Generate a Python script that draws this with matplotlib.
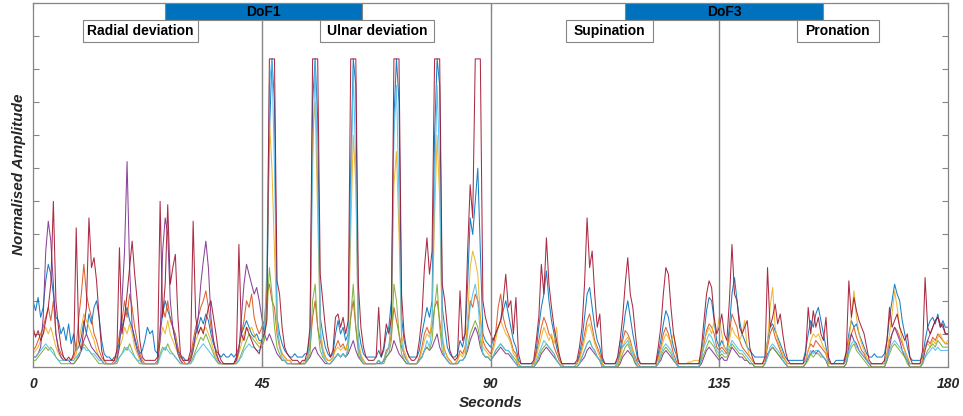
import numpy as np
import matplotlib
matplotlib.use('Agg')
import matplotlib.pyplot as plt
from matplotlib.patches import Rectangle

plt.rcParams['font.family'] = ['Liberation Sans', 'DejaVu Sans']

# sample spacing of the traces (seconds)
STEP = 0.5

# each row = 5 s of samples; last row is t = 180 s
blue_rows = [
    [0.20, 0.17, 0.21, 0.15, 0.18, 0.26, 0.31, 0.28, 0.22, 0.15],
    [0.14, 0.10, 0.12, 0.08, 0.13, 0.07, 0.10, 0.05, 0.06, 0.09],
    [0.14, 0.10, 0.16, 0.13, 0.18, 0.20, 0.15, 0.08, 0.04, 0.03],
    [0.03, 0.02, 0.03, 0.03, 0.08, 0.12, 0.15, 0.18, 0.14, 0.12],
    [0.09, 0.06, 0.04, 0.05, 0.08, 0.12, 0.10, 0.11, 0.05, 0.04],
    [0.10, 0.16, 0.20, 0.17, 0.15, 0.12, 0.08, 0.05, 0.03, 0.03],
    [0.02, 0.02, 0.03, 0.06, 0.10, 0.12, 0.15, 0.13, 0.16, 0.14],
    [0.10, 0.07, 0.05, 0.04, 0.03, 0.04, 0.03, 0.03, 0.04, 0.03],
    [0.04, 0.06, 0.10, 0.12, 0.14, 0.12, 0.10, 0.09, 0.10, 0.08],
    [0.08, 0.10, 0.20, 0.70, 0.93, 0.80, 0.15, 0.10, 0.07, 0.05],
    [0.04, 0.03, 0.03, 0.04, 0.03, 0.03, 0.03, 0.04, 0.04, 0.10],
    [0.80, 0.93, 0.75, 0.15, 0.10, 0.06, 0.04, 0.03, 0.04, 0.10],
    [0.14, 0.10, 0.12, 0.08, 0.10, 0.60, 0.93, 0.85, 0.12, 0.07],
    [0.04, 0.03, 0.03, 0.03, 0.03, 0.03, 0.05, 0.03, 0.05, 0.10],
    [0.12, 0.20, 0.75, 0.93, 0.80, 0.15, 0.08, 0.05, 0.03, 0.03],
    [0.03, 0.03, 0.05, 0.10, 0.14, 0.18, 0.15, 0.20, 0.70, 0.93],
    [0.85, 0.18, 0.12, 0.06, 0.04, 0.03, 0.03, 0.04, 0.08, 0.06],
    [0.10, 0.25, 0.45, 0.40, 0.50, 0.60, 0.35, 0.10, 0.08, 0.07],
    [0.06, 0.08, 0.10, 0.12, 0.14, 0.17, 0.20, 0.16, 0.12, 0.08],
    [0.06, 0.02, 0.01, 0.01, 0.01, 0.01, 0.01, 0.01, 0.05, 0.12],
    [0.18, 0.22, 0.29, 0.20, 0.14, 0.10, 0.06, 0.03, 0.01, 0.01],
    [0.01, 0.01, 0.01, 0.01, 0.01, 0.04, 0.08, 0.15, 0.22, 0.24],
    [0.18, 0.12, 0.08, 0.06, 0.02, 0.01, 0.01, 0.01, 0.01, 0.01],
    [0.02, 0.05, 0.10, 0.16, 0.20, 0.15, 0.10, 0.06, 0.02, 0.01],
    [0.01, 0.01, 0.01, 0.01, 0.01, 0.01, 0.04, 0.08, 0.13, 0.17],
    [0.15, 0.10, 0.06, 0.04, 0.01, 0.01, 0.01, 0.01, 0.01, 0.01],
    [0.01, 0.01, 0.01, 0.04, 0.10, 0.17, 0.21, 0.20, 0.14, 0.08],
    [0.06, 0.08, 0.06, 0.05, 0.12, 0.22, 0.27, 0.20, 0.14, 0.10],
    [0.08, 0.06, 0.05, 0.04, 0.03, 0.03, 0.03, 0.03, 0.03, 0.08],
    [0.12, 0.13, 0.11, 0.09, 0.07, 0.05, 0.03, 0.02, 0.02, 0.02],
    [0.02, 0.02, 0.02, 0.02, 0.05, 0.10, 0.14, 0.12, 0.16, 0.18],
    [0.14, 0.10, 0.06, 0.02, 0.01, 0.01, 0.02, 0.02, 0.02, 0.02],
    [0.04, 0.10, 0.14, 0.12, 0.13, 0.10, 0.08, 0.06, 0.04, 0.03],
    [0.03, 0.04, 0.03, 0.03, 0.03, 0.04, 0.08, 0.15, 0.20, 0.25],
    [0.22, 0.20, 0.14, 0.10, 0.06, 0.03, 0.02, 0.02, 0.02, 0.02],
    [0.03, 0.08, 0.12, 0.14, 0.15, 0.13, 0.16, 0.12, 0.14, 0.12],
    [0.12],
]

orange_rows = [
    [0.05, 0.06, 0.08, 0.10, 0.12, 0.15, 0.18, 0.14, 0.20, 0.10],
    [0.06, 0.04, 0.03, 0.02, 0.02, 0.02, 0.03, 0.06, 0.15, 0.22],
    [0.31, 0.22, 0.18, 0.15, 0.10, 0.08, 0.05, 0.03, 0.02, 0.01],
    [0.01, 0.01, 0.02, 0.05, 0.10, 0.14, 0.20, 0.15, 0.22, 0.18],
    [0.12, 0.08, 0.04, 0.02, 0.01, 0.01, 0.01, 0.01, 0.01, 0.02],
    [0.12, 0.18, 0.15, 0.20, 0.14, 0.12, 0.10, 0.06, 0.03, 0.02],
    [0.01, 0.01, 0.03, 0.08, 0.12, 0.15, 0.18, 0.20, 0.23, 0.18],
    [0.12, 0.08, 0.05, 0.02, 0.01, 0.01, 0.01, 0.01, 0.01, 0.01],
    [0.02, 0.06, 0.10, 0.14, 0.20, 0.18, 0.22, 0.15, 0.12, 0.10],
    [0.12, 0.14, 0.22, 0.25, 0.20, 0.18, 0.10, 0.06, 0.04, 0.03],
    [0.02, 0.02, 0.01, 0.01, 0.01, 0.01, 0.01, 0.01, 0.03, 0.06],
    [0.15, 0.20, 0.12, 0.08, 0.05, 0.03, 0.02, 0.02, 0.03, 0.06],
    [0.08, 0.06, 0.07, 0.05, 0.08, 0.15, 0.20, 0.12, 0.06, 0.03],
    [0.02, 0.01, 0.01, 0.01, 0.01, 0.01, 0.02, 0.01, 0.02, 0.05],
    [0.06, 0.10, 0.18, 0.14, 0.10, 0.06, 0.04, 0.02, 0.01, 0.01],
    [0.01, 0.01, 0.03, 0.06, 0.10, 0.12, 0.10, 0.12, 0.18, 0.20],
    [0.14, 0.08, 0.05, 0.03, 0.02, 0.01, 0.01, 0.02, 0.05, 0.04],
    [0.06, 0.12, 0.20, 0.18, 0.22, 0.20, 0.15, 0.08, 0.06, 0.05],
    [0.04, 0.06, 0.10, 0.18, 0.22, 0.15, 0.12, 0.10, 0.08, 0.05],
    [0.04, 0.01, 0.00, 0.00, 0.00, 0.00, 0.00, 0.01, 0.04, 0.08],
    [0.12, 0.15, 0.13, 0.10, 0.09, 0.06, 0.04, 0.02, 0.01, 0.00],
    [0.00, 0.00, 0.00, 0.00, 0.01, 0.03, 0.06, 0.10, 0.14, 0.16],
    [0.12, 0.08, 0.06, 0.04, 0.01, 0.00, 0.00, 0.00, 0.00, 0.00],
    [0.01, 0.04, 0.08, 0.11, 0.10, 0.08, 0.05, 0.03, 0.01, 0.00],
    [0.00, 0.00, 0.00, 0.00, 0.00, 0.00, 0.03, 0.06, 0.10, 0.12],
    [0.10, 0.07, 0.04, 0.02, 0.00, 0.00, 0.00, 0.00, 0.00, 0.00],
    [0.00, 0.00, 0.00, 0.03, 0.07, 0.11, 0.13, 0.12, 0.10, 0.06],
    [0.05, 0.06, 0.05, 0.04, 0.10, 0.16, 0.14, 0.12, 0.08, 0.06],
    [0.05, 0.04, 0.03, 0.02, 0.01, 0.01, 0.01, 0.01, 0.02, 0.06],
    [0.10, 0.12, 0.09, 0.07, 0.05, 0.03, 0.02, 0.01, 0.01, 0.01],
    [0.01, 0.01, 0.01, 0.01, 0.02, 0.05, 0.07, 0.06, 0.08, 0.07],
    [0.06, 0.05, 0.04, 0.01, 0.01, 0.01, 0.01, 0.01, 0.01, 0.01],
    [0.03, 0.08, 0.10, 0.12, 0.09, 0.07, 0.05, 0.04, 0.02, 0.01],
    [0.01, 0.01, 0.01, 0.01, 0.01, 0.01, 0.04, 0.08, 0.10, 0.12],
    [0.11, 0.09, 0.07, 0.05, 0.03, 0.01, 0.01, 0.01, 0.01, 0.01],
    [0.02, 0.06, 0.08, 0.07, 0.09, 0.08, 0.10, 0.09, 0.08, 0.07],
    [0.07],
]

yellow_rows = [
    [0.04, 0.05, 0.06, 0.08, 0.10, 0.12, 0.10, 0.12, 0.09, 0.06],
    [0.04, 0.03, 0.02, 0.02, 0.02, 0.02, 0.02, 0.04, 0.08, 0.12],
    [0.16, 0.14, 0.12, 0.10, 0.08, 0.05, 0.03, 0.02, 0.01, 0.01],
    [0.01, 0.01, 0.01, 0.03, 0.06, 0.08, 0.12, 0.10, 0.13, 0.10],
    [0.06, 0.04, 0.02, 0.01, 0.01, 0.01, 0.01, 0.01, 0.01, 0.01],
    [0.08, 0.12, 0.10, 0.14, 0.10, 0.08, 0.06, 0.04, 0.02, 0.01],
    [0.01, 0.01, 0.02, 0.05, 0.08, 0.10, 0.12, 0.11, 0.12, 0.10],
    [0.08, 0.05, 0.03, 0.01, 0.01, 0.01, 0.01, 0.01, 0.01, 0.01],
    [0.01, 0.04, 0.07, 0.10, 0.12, 0.11, 0.12, 0.10, 0.08, 0.07],
    [0.08, 0.10, 0.25, 0.75, 0.60, 0.35, 0.12, 0.07, 0.04, 0.03],
    [0.02, 0.02, 0.01, 0.01, 0.01, 0.01, 0.01, 0.02, 0.03, 0.08],
    [0.70, 0.80, 0.45, 0.12, 0.06, 0.03, 0.02, 0.02, 0.03, 0.05],
    [0.06, 0.05, 0.06, 0.05, 0.08, 0.40, 0.70, 0.55, 0.08, 0.04],
    [0.02, 0.01, 0.01, 0.01, 0.01, 0.01, 0.02, 0.01, 0.02, 0.04],
    [0.06, 0.12, 0.55, 0.65, 0.40, 0.10, 0.05, 0.03, 0.01, 0.01],
    [0.01, 0.01, 0.02, 0.05, 0.08, 0.10, 0.09, 0.15, 0.45, 0.70],
    [0.50, 0.10, 0.05, 0.03, 0.02, 0.01, 0.01, 0.02, 0.04, 0.03],
    [0.05, 0.15, 0.30, 0.35, 0.32, 0.28, 0.15, 0.06, 0.05, 0.04],
    [0.03, 0.05, 0.08, 0.12, 0.14, 0.12, 0.10, 0.09, 0.07, 0.04],
    [0.03, 0.01, 0.00, 0.00, 0.00, 0.00, 0.00, 0.01, 0.03, 0.06],
    [0.09, 0.12, 0.10, 0.08, 0.10, 0.07, 0.12, 0.03, 0.01, 0.00],
    [0.00, 0.00, 0.00, 0.00, 0.01, 0.02, 0.05, 0.08, 0.12, 0.13],
    [0.10, 0.07, 0.05, 0.03, 0.01, 0.00, 0.00, 0.00, 0.00, 0.00],
    [0.01, 0.03, 0.06, 0.08, 0.09, 0.07, 0.05, 0.02, 0.01, 0.01],
    [0.01, 0.01, 0.01, 0.01, 0.01, 0.01, 0.02, 0.05, 0.08, 0.10],
    [0.09, 0.07, 0.10, 0.05, 0.01, 0.01, 0.01, 0.01, 0.015, 0.015],
    [0.02, 0.02, 0.02, 0.04, 0.08, 0.10, 0.12, 0.10, 0.14, 0.10],
    [0.15, 0.10, 0.06, 0.05, 0.08, 0.12, 0.10, 0.09, 0.08, 0.10],
    [0.14, 0.06, 0.03, 0.02, 0.01, 0.01, 0.01, 0.01, 0.02, 0.08],
    [0.18, 0.24, 0.12, 0.08, 0.06, 0.04, 0.02, 0.01, 0.01, 0.01],
    [0.01, 0.01, 0.01, 0.01, 0.02, 0.05, 0.08, 0.10, 0.09, 0.10],
    [0.08, 0.06, 0.05, 0.01, 0.01, 0.01, 0.01, 0.01, 0.01, 0.01],
    [0.02, 0.08, 0.15, 0.23, 0.15, 0.10, 0.07, 0.05, 0.03, 0.01],
    [0.01, 0.01, 0.01, 0.01, 0.01, 0.01, 0.04, 0.10, 0.16, 0.23],
    [0.18, 0.12, 0.08, 0.05, 0.03, 0.01, 0.01, 0.01, 0.01, 0.01],
    [0.02, 0.06, 0.07, 0.06, 0.08, 0.07, 0.09, 0.10, 0.08, 0.07],
    [0.08],
]

purple_rows = [
    [0.03, 0.03, 0.04, 0.06, 0.15, 0.35, 0.44, 0.38, 0.25, 0.10],
    [0.05, 0.03, 0.02, 0.02, 0.02, 0.01, 0.01, 0.02, 0.03, 0.05],
    [0.08, 0.10, 0.08, 0.06, 0.05, 0.04, 0.03, 0.02, 0.01, 0.01],
    [0.01, 0.01, 0.01, 0.02, 0.06, 0.20, 0.35, 0.62, 0.30, 0.12],
    [0.08, 0.05, 0.03, 0.01, 0.01, 0.01, 0.01, 0.01, 0.01, 0.01],
    [0.08, 0.35, 0.45, 0.40, 0.20, 0.12, 0.08, 0.04, 0.02, 0.01],
    [0.01, 0.01, 0.02, 0.05, 0.10, 0.15, 0.25, 0.32, 0.38, 0.30],
    [0.15, 0.08, 0.04, 0.02, 0.01, 0.01, 0.01, 0.01, 0.01, 0.01],
    [0.02, 0.05, 0.15, 0.25, 0.31, 0.28, 0.25, 0.22, 0.24, 0.20],
    [0.15, 0.10, 0.08, 0.10, 0.08, 0.06, 0.04, 0.03, 0.02, 0.02],
    [0.01, 0.01, 0.01, 0.01, 0.01, 0.01, 0.01, 0.01, 0.02, 0.03],
    [0.05, 0.06, 0.04, 0.03, 0.02, 0.01, 0.01, 0.01, 0.02, 0.03],
    [0.04, 0.03, 0.04, 0.03, 0.04, 0.06, 0.08, 0.05, 0.03, 0.02],
    [0.01, 0.01, 0.01, 0.01, 0.01, 0.01, 0.01, 0.01, 0.02, 0.03],
    [0.04, 0.05, 0.08, 0.06, 0.04, 0.03, 0.02, 0.01, 0.01, 0.01],
    [0.01, 0.01, 0.02, 0.03, 0.05, 0.06, 0.05, 0.06, 0.08, 0.10],
    [0.06, 0.04, 0.03, 0.02, 0.01, 0.01, 0.01, 0.01, 0.02, 0.02],
    [0.03, 0.05, 0.08, 0.10, 0.12, 0.10, 0.06, 0.04, 0.03, 0.03],
    [0.02, 0.03, 0.04, 0.05, 0.06, 0.05, 0.04, 0.04, 0.03, 0.02],
    [0.01, 0.00, 0.00, 0.00, 0.00, 0.00, 0.00, 0.00, 0.01, 0.02],
    [0.04, 0.05, 0.06, 0.05, 0.04, 0.03, 0.02, 0.01, 0.00, 0.00],
    [0.00, 0.00, 0.00, 0.00, 0.00, 0.01, 0.02, 0.03, 0.05, 0.06],
    [0.05, 0.04, 0.03, 0.02, 0.00, 0.00, 0.00, 0.00, 0.00, 0.00],
    [0.00, 0.01, 0.03, 0.04, 0.05, 0.04, 0.03, 0.01, 0.00, 0.00],
    [0.00, 0.00, 0.00, 0.00, 0.00, 0.00, 0.01, 0.02, 0.04, 0.05],
    [0.04, 0.03, 0.02, 0.01, 0.00, 0.00, 0.00, 0.00, 0.00, 0.00],
    [0.00, 0.00, 0.00, 0.01, 0.03, 0.05, 0.06, 0.05, 0.04, 0.03],
    [0.02, 0.03, 0.02, 0.02, 0.04, 0.06, 0.05, 0.04, 0.03, 0.03],
    [0.02, 0.02, 0.01, 0.01, 0.00, 0.00, 0.00, 0.00, 0.01, 0.04],
    [0.05, 0.06, 0.05, 0.04, 0.03, 0.02, 0.01, 0.00, 0.00, 0.00],
    [0.00, 0.00, 0.00, 0.00, 0.01, 0.03, 0.04, 0.05, 0.04, 0.05],
    [0.04, 0.03, 0.02, 0.00, 0.00, 0.00, 0.00, 0.00, 0.00, 0.00],
    [0.01, 0.06, 0.10, 0.08, 0.07, 0.05, 0.04, 0.03, 0.02, 0.01],
    [0.00, 0.00, 0.00, 0.00, 0.00, 0.00, 0.02, 0.06, 0.10, 0.12],
    [0.10, 0.08, 0.05, 0.03, 0.02, 0.00, 0.00, 0.00, 0.00, 0.00],
    [0.01, 0.05, 0.08, 0.10, 0.12, 0.14, 0.15, 0.13, 0.12, 0.10],
    [0.10],
]

green_rows = [
    [0.02, 0.02, 0.03, 0.04, 0.05, 0.06, 0.05, 0.06, 0.05, 0.03],
    [0.02, 0.01, 0.01, 0.01, 0.01, 0.01, 0.01, 0.02, 0.04, 0.05],
    [0.07, 0.06, 0.05, 0.04, 0.03, 0.02, 0.01, 0.01, 0.01, 0.01],
    [0.01, 0.01, 0.01, 0.01, 0.03, 0.04, 0.06, 0.05, 0.07, 0.05],
    [0.03, 0.02, 0.01, 0.01, 0.01, 0.01, 0.01, 0.01, 0.01, 0.01],
    [0.04, 0.06, 0.05, 0.07, 0.05, 0.04, 0.03, 0.02, 0.01, 0.01],
    [0.01, 0.01, 0.01, 0.03, 0.05, 0.07, 0.09, 0.08, 0.10, 0.08],
    [0.06, 0.04, 0.02, 0.01, 0.01, 0.01, 0.01, 0.01, 0.01, 0.01],
    [0.01, 0.02, 0.04, 0.06, 0.08, 0.10, 0.09, 0.08, 0.07, 0.06],
    [0.06, 0.08, 0.15, 0.30, 0.22, 0.12, 0.06, 0.04, 0.02, 0.02],
    [0.01, 0.01, 0.01, 0.01, 0.01, 0.01, 0.01, 0.01, 0.02, 0.04],
    [0.20, 0.25, 0.12, 0.05, 0.03, 0.02, 0.01, 0.01, 0.02, 0.03],
    [0.04, 0.03, 0.04, 0.03, 0.05, 0.15, 0.25, 0.12, 0.04, 0.02],
    [0.01, 0.01, 0.01, 0.01, 0.01, 0.01, 0.02, 0.01, 0.01, 0.03],
    [0.04, 0.08, 0.25, 0.20, 0.10, 0.04, 0.02, 0.01, 0.01, 0.01],
    [0.01, 0.01, 0.02, 0.03, 0.05, 0.06, 0.05, 0.08, 0.18, 0.25],
    [0.12, 0.05, 0.03, 0.02, 0.01, 0.01, 0.01, 0.01, 0.02, 0.02],
    [0.03, 0.06, 0.10, 0.12, 0.14, 0.12, 0.08, 0.04, 0.03, 0.03],
    [0.02, 0.03, 0.05, 0.06, 0.07, 0.06, 0.05, 0.05, 0.04, 0.03],
    [0.02, 0.00, 0.00, 0.00, 0.00, 0.00, 0.00, 0.00, 0.01, 0.03],
    [0.05, 0.06, 0.07, 0.06, 0.05, 0.04, 0.02, 0.01, 0.00, 0.00],
    [0.00, 0.00, 0.00, 0.00, 0.00, 0.01, 0.03, 0.05, 0.07, 0.08],
    [0.06, 0.05, 0.03, 0.02, 0.00, 0.00, 0.00, 0.00, 0.00, 0.00],
    [0.00, 0.02, 0.04, 0.06, 0.07, 0.05, 0.03, 0.01, 0.00, 0.00],
    [0.00, 0.00, 0.00, 0.00, 0.00, 0.00, 0.01, 0.03, 0.05, 0.06],
    [0.05, 0.04, 0.02, 0.01, 0.00, 0.00, 0.00, 0.00, 0.00, 0.00],
    [0.00, 0.00, 0.00, 0.02, 0.04, 0.06, 0.08, 0.07, 0.06, 0.04],
    [0.03, 0.04, 0.03, 0.03, 0.05, 0.07, 0.06, 0.05, 0.04, 0.04],
    [0.03, 0.02, 0.01, 0.01, 0.00, 0.00, 0.00, 0.00, 0.01, 0.03],
    [0.05, 0.06, 0.05, 0.04, 0.03, 0.02, 0.01, 0.00, 0.00, 0.00],
    [0.00, 0.00, 0.00, 0.00, 0.01, 0.02, 0.04, 0.03, 0.04, 0.04],
    [0.03, 0.03, 0.02, 0.00, 0.00, 0.00, 0.00, 0.00, 0.00, 0.00],
    [0.01, 0.04, 0.06, 0.07, 0.05, 0.04, 0.03, 0.02, 0.01, 0.00],
    [0.00, 0.00, 0.00, 0.00, 0.00, 0.00, 0.02, 0.04, 0.06, 0.07],
    [0.06, 0.05, 0.04, 0.03, 0.01, 0.00, 0.00, 0.00, 0.00, 0.00],
    [0.01, 0.03, 0.05, 0.06, 0.07, 0.06, 0.08, 0.07, 0.06, 0.06],
    [0.06],
]

cyan_rows = [
    [0.03, 0.03, 0.04, 0.05, 0.06, 0.07, 0.06, 0.05, 0.04, 0.03],
    [0.02, 0.02, 0.02, 0.02, 0.02, 0.02, 0.02, 0.03, 0.04, 0.05],
    [0.06, 0.05, 0.05, 0.04, 0.04, 0.03, 0.02, 0.02, 0.01, 0.01],
    [0.01, 0.01, 0.01, 0.02, 0.03, 0.04, 0.05, 0.06, 0.05, 0.04],
    [0.03, 0.02, 0.02, 0.01, 0.01, 0.01, 0.01, 0.01, 0.01, 0.01],
    [0.03, 0.05, 0.06, 0.05, 0.04, 0.04, 0.03, 0.02, 0.01, 0.01],
    [0.01, 0.01, 0.01, 0.02, 0.04, 0.05, 0.06, 0.07, 0.06, 0.05],
    [0.04, 0.03, 0.02, 0.01, 0.01, 0.01, 0.01, 0.01, 0.01, 0.01],
    [0.01, 0.02, 0.03, 0.05, 0.06, 0.07, 0.06, 0.06, 0.05, 0.05],
    [0.06, 0.10, 0.30, 0.85, 0.93, 0.60, 0.15, 0.06, 0.03, 0.02],
    [0.01, 0.01, 0.01, 0.01, 0.01, 0.01, 0.01, 0.01, 0.03, 0.08],
    [0.60, 0.93, 0.55, 0.10, 0.04, 0.02, 0.01, 0.01, 0.02, 0.03],
    [0.04, 0.03, 0.04, 0.03, 0.06, 0.50, 0.90, 0.60, 0.06, 0.03],
    [0.01, 0.01, 0.01, 0.01, 0.01, 0.01, 0.02, 0.01, 0.02, 0.04],
    [0.06, 0.15, 0.70, 0.85, 0.50, 0.08, 0.03, 0.02, 0.01, 0.01],
    [0.01, 0.01, 0.02, 0.03, 0.05, 0.08, 0.06, 0.12, 0.55, 0.85],
    [0.60, 0.08, 0.03, 0.02, 0.01, 0.01, 0.01, 0.01, 0.02, 0.02],
    [0.03, 0.10, 0.18, 0.22, 0.25, 0.20, 0.10, 0.04, 0.03, 0.03],
    [0.02, 0.03, 0.05, 0.06, 0.07, 0.06, 0.05, 0.05, 0.04, 0.02],
    [0.01, 0.00, 0.00, 0.00, 0.00, 0.00, 0.00, 0.00, 0.02, 0.04],
    [0.06, 0.08, 0.07, 0.06, 0.05, 0.04, 0.02, 0.01, 0.00, 0.00],
    [0.00, 0.00, 0.00, 0.00, 0.00, 0.01, 0.03, 0.05, 0.07, 0.08],
    [0.06, 0.05, 0.03, 0.02, 0.00, 0.00, 0.00, 0.00, 0.00, 0.00],
    [0.02, 0.08, 0.06, 0.07, 0.08, 0.06, 0.04, 0.02, 0.00, 0.00],
    [0.00, 0.00, 0.00, 0.00, 0.00, 0.00, 0.01, 0.04, 0.06, 0.07],
    [0.06, 0.05, 0.03, 0.01, 0.00, 0.00, 0.00, 0.00, 0.00, 0.00],
    [0.00, 0.00, 0.00, 0.03, 0.06, 0.08, 0.10, 0.09, 0.07, 0.05],
    [0.04, 0.05, 0.04, 0.04, 0.06, 0.08, 0.07, 0.06, 0.05, 0.05],
    [0.04, 0.03, 0.02, 0.01, 0.01, 0.01, 0.01, 0.01, 0.01, 0.03],
    [0.06, 0.07, 0.06, 0.05, 0.04, 0.02, 0.01, 0.01, 0.01, 0.01],
    [0.01, 0.01, 0.01, 0.01, 0.02, 0.03, 0.05, 0.04, 0.05, 0.05],
    [0.04, 0.03, 0.02, 0.01, 0.01, 0.01, 0.01, 0.01, 0.01, 0.01],
    [0.02, 0.05, 0.07, 0.08, 0.06, 0.05, 0.04, 0.03, 0.02, 0.01],
    [0.01, 0.01, 0.01, 0.01, 0.01, 0.01, 0.03, 0.05, 0.07, 0.08],
    [0.07, 0.06, 0.05, 0.04, 0.02, 0.01, 0.01, 0.01, 0.01, 0.01],
    [0.01, 0.03, 0.04, 0.05, 0.06, 0.05, 0.06, 0.05, 0.05, 0.05],
    [0.05],
]

red_rows = [
    [0.12, 0.09, 0.11, 0.08, 0.10, 0.14, 0.18, 0.25, 0.50, 0.20],
    [0.12, 0.06, 0.03, 0.02, 0.03, 0.02, 0.04, 0.42, 0.08, 0.05],
    [0.12, 0.18, 0.45, 0.30, 0.33, 0.26, 0.15, 0.05, 0.02, 0.02],
    [0.02, 0.02, 0.02, 0.05, 0.36, 0.10, 0.15, 0.22, 0.30, 0.38],
    [0.28, 0.20, 0.08, 0.03, 0.02, 0.02, 0.02, 0.02, 0.02, 0.03],
    [0.50, 0.15, 0.25, 0.49, 0.25, 0.30, 0.34, 0.15, 0.04, 0.02],
    [0.02, 0.02, 0.05, 0.44, 0.15, 0.10, 0.12, 0.10, 0.14, 0.18],
    [0.20, 0.15, 0.10, 0.04, 0.02, 0.01, 0.01, 0.01, 0.01, 0.01],
    [0.03, 0.37, 0.10, 0.08, 0.12, 0.10, 0.08, 0.06, 0.05, 0.04],
    [0.08, 0.10, 0.14, 0.93, 0.93, 0.93, 0.26, 0.22, 0.12, 0.06],
    [0.04, 0.03, 0.02, 0.02, 0.02, 0.01, 0.02, 0.02, 0.05, 0.12],
    [0.93, 0.93, 0.93, 0.28, 0.20, 0.12, 0.06, 0.03, 0.05, 0.15],
    [0.16, 0.12, 0.15, 0.10, 0.14, 0.93, 0.93, 0.93, 0.25, 0.12],
    [0.06, 0.03, 0.02, 0.02, 0.02, 0.03, 0.18, 0.03, 0.06, 0.13],
    [0.10, 0.15, 0.93, 0.93, 0.93, 0.22, 0.10, 0.05, 0.03, 0.02],
    [0.02, 0.03, 0.08, 0.15, 0.30, 0.39, 0.28, 0.35, 0.93, 0.93],
    [0.93, 0.25, 0.20, 0.12, 0.05, 0.03, 0.02, 0.03, 0.23, 0.08],
    [0.10, 0.35, 0.55, 0.45, 0.93, 0.93, 0.93, 0.20, 0.15, 0.12],
    [0.10, 0.08, 0.10, 0.12, 0.14, 0.20, 0.28, 0.18, 0.20, 0.10],
    [0.21, 0.04, 0.01, 0.01, 0.01, 0.01, 0.01, 0.02, 0.08, 0.15],
    [0.31, 0.22, 0.39, 0.25, 0.18, 0.12, 0.08, 0.04, 0.01, 0.01],
    [0.01, 0.01, 0.01, 0.01, 0.02, 0.06, 0.12, 0.25, 0.45, 0.30],
    [0.35, 0.22, 0.12, 0.16, 0.03, 0.01, 0.01, 0.01, 0.01, 0.01],
    [0.03, 0.08, 0.15, 0.25, 0.33, 0.22, 0.18, 0.10, 0.03, 0.01],
    [0.01, 0.01, 0.01, 0.01, 0.01, 0.01, 0.06, 0.12, 0.22, 0.30],
    [0.28, 0.18, 0.10, 0.06, 0.01, 0.01, 0.01, 0.01, 0.01, 0.01],
    [0.01, 0.01, 0.01, 0.06, 0.14, 0.22, 0.26, 0.24, 0.15, 0.10],
    [0.12, 0.16, 0.10, 0.08, 0.20, 0.37, 0.22, 0.20, 0.12, 0.10],
    [0.12, 0.14, 0.06, 0.03, 0.01, 0.01, 0.01, 0.01, 0.03, 0.30],
    [0.12, 0.15, 0.19, 0.13, 0.16, 0.10, 0.05, 0.02, 0.01, 0.01],
    [0.01, 0.01, 0.01, 0.01, 0.04, 0.18, 0.10, 0.17, 0.12, 0.15],
    [0.10, 0.08, 0.15, 0.03, 0.01, 0.01, 0.01, 0.01, 0.01, 0.01],
    [0.05, 0.26, 0.15, 0.21, 0.17, 0.14, 0.12, 0.10, 0.06, 0.02],
    [0.01, 0.01, 0.01, 0.01, 0.01, 0.02, 0.08, 0.18, 0.12, 0.14],
    [0.16, 0.12, 0.10, 0.08, 0.10, 0.03, 0.01, 0.01, 0.01, 0.01],
    [0.05, 0.27, 0.12, 0.10, 0.12, 0.14, 0.15, 0.12, 0.13, 0.10],
    [0.10],
]

# MATLAB default colour order, drawn in this order (red ends on top)
channels = [
    (blue_rows, '#0072BD'),
    (orange_rows, '#D95319'),
    (yellow_rows, '#EDB120'),
    (purple_rows, '#7E2F8E'),
    (green_rows, '#77AC30'),
    (cyan_rows, '#4DBEEE'),
    (red_rows, '#A2142F'),
]

# DoF bars and movement labels: (text, start s, end s)
dof_bars = [('DoF1', 26.0, 64.7), ('DoF3', 116.5, 155.4)]
move_labels = [('Radial deviation', 9.8, 32.5), ('Ulnar deviation', 56.5, 78.9),
               ('Supination', 104.9, 122.0), ('Pronation', 150.3, 166.4)]
x_ticks = [0, 45, 90, 135, 180]

frame = '#858585'

fig = plt.figure(figsize=(9.63, 4.16), dpi=100)
ax = fig.add_axes([0.0343, 0.1178, 0.9501, 0.8760])

for rows, col in channels:
    vals = np.array([v for r in rows for v in r])
    t = np.arange(len(vals)) * STEP
    ax.plot(t, vals, color=col, lw=0.75, alpha=0.9)

ax.set_xlim(0, 180)
ax.set_ylim(0, 1.1)

# separators
ax.plot([45, 45], [0, 1.046], color=frame, lw=1)
ax.plot([90, 90], [0, 1.1], color=frame, lw=1)
ax.plot([135, 135], [0, 1.046], color=frame, lw=1)

for name, x0, x1 in dof_bars:
    ax.add_patch(Rectangle((x0, 1.046), x1 - x0, 0.054, facecolor='#0072BD',
                           edgecolor=frame, lw=0.8, zorder=5))
    ax.text((x0 + x1) / 2, 1.073, name, ha='center', va='center',
            fontsize=10, fontweight='bold', color='black', zorder=6)

for name, x0, x1 in move_labels:
    ax.add_patch(Rectangle((x0, 0.982), x1 - x0, 0.064, facecolor='white',
                           edgecolor=frame, lw=0.8, zorder=5))
    ax.text((x0 + x1) / 2, 1.014, name, ha='center', va='center',
            fontsize=10, fontweight='bold', color='black', zorder=6)

ax.set_xticks(x_ticks)
ax.set_xticklabels([str(x) for x in x_ticks], fontsize=10, fontweight='bold',
                   fontstyle='italic', color='#262626')
ax.set_yticks(np.arange(0, 1.101, 0.1))
ax.set_yticklabels([])
ax.tick_params(direction='in', length=4, width=0.8, color=frame,
               right=True, top=True, pad=7)

for sp in ax.spines.values():
    sp.set_color(frame)
    sp.set_linewidth(0.9)

ax.set_xlabel('Seconds', fontsize=11, fontweight='bold', fontstyle='italic',
              color='#262626', labelpad=4)
ax.set_ylabel('Normalised Amplitude', fontsize=11, fontweight='bold',
              fontstyle='italic', color='#262626')
ax.yaxis.set_label_coords(-0.008, 0.53)

fig.savefig('out.png', dpi=100)
